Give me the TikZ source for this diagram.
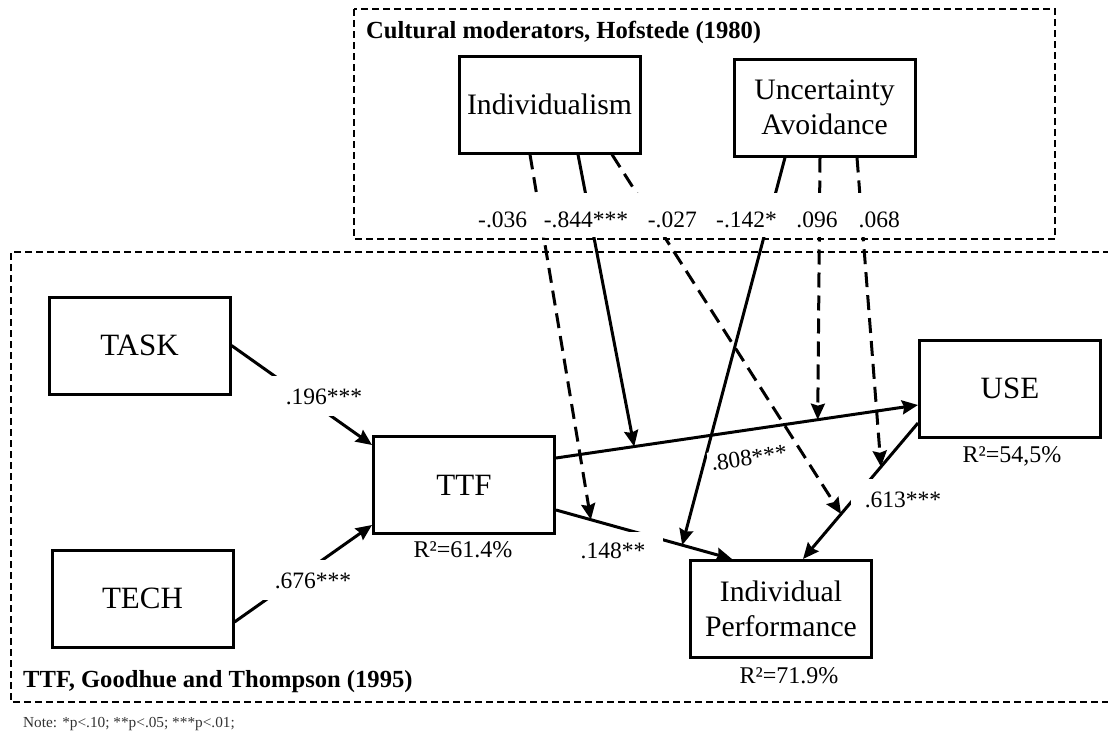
\documentclass[tikz,border=0pt]{standalone}
\usepackage{fontspec}
\setmainfont{Liberation Serif}
\usetikzlibrary{arrows.meta}
\begin{document}
\begin{tikzpicture}[x=1pt,y=-1pt,
  varbox/.style={draw,line width=3pt,fill=white,minimum width=181pt,minimum height=97pt,
    inner sep=0pt,align=center,font=\fontsize{31}{37}\selectfont},
  twoline/.style={varbox,font=\fontsize{29.7}{35}\selectfont},
  conn/.style={line width=3pt,-{Stealth[length=16pt,width=14pt,inset=2pt]}},
  modconn/.style={conn,dash pattern=on 15pt off 8pt},
  coef/.style={fill=white,inner xsep=14pt,inner ysep=12pt,anchor=base,
    font=\fontsize{23.5}{28}\selectfont},
  topcoef/.style={fill=white,inner xsep=1pt,inner ysep=0pt,
    text height=34pt,text depth=10pt,anchor=base,font=\fontsize{23.5}{28}\selectfont},
  rsq/.style={anchor=base,inner sep=0pt,font=\fontsize{24}{28}\selectfont},
  panel/.style={line width=1.6pt,dash pattern=on 7pt off 4pt},
  paneltitle/.style={anchor=base west,inner sep=0pt,font=\fontsize{24.6}{29}\selectfont\bfseries}
]
\useasboundingbox (0,0) rectangle (1108,736);

% constructs
\node[varbox] (task) at (139.5,345.5) {TASK};
\node[varbox] (tech) at (142.5,598.5) {TECH};
\node[varbox] (ttf)  at (464,485)     {TTF};
\node[varbox] (use)  at (1010,388.5)  {USE};
\node[twoline] (ip)  at (781,609)     {Individual\\Performance};
\node[twoline] (ind) at (549.5,104.5) {Individualism};
\node[twoline] (unc) at (824.5,107.5) {Uncertainty\\Avoidance};

% structural paths
\draw[conn] (task.east) -- ([yshift=40pt]ttf.west);
\draw[conn] ([yshift=-23.5pt]tech.east) -- ([yshift=-40pt]ttf.west);
\draw[conn] ([yshift=27pt]ttf.east)
  -- coordinate[pos=0.216] (p844) coordinate[pos=0.723] (p096)
  ([yshift=-16.5pt]use.west);
\draw[conn] ([yshift=-25pt]ttf.east)
  -- coordinate[pos=0.198] (p036) coordinate[pos=0.717] (p142)
  ([xshift=-49pt]ip.north);
\draw[conn] ([yshift=-34.5pt]use.west)
  -- coordinate[pos=0.669] (p027) coordinate[pos=0.322] (p068)
  ([xshift=22pt]ip.north);

% moderating effects
\draw[modconn] ([xshift=-19.5pt]ind.south) -- (p036);
\draw[conn]    ([xshift=28.5pt]ind.south)  -- (p844);
\draw[modconn] ([xshift=62.5pt]ind.south)  -- (p027);
\draw[conn]    ([xshift=-39.5pt]unc.south) -- (p142);
\draw[modconn] ([xshift=-4.5pt]unc.south)  -- (p096);
\draw[modconn] ([xshift=32.5pt]unc.south)  -- (p068);

% coefficients of the moderators (white boxes break the lines)
\node[topcoef,anchor=base west,text width=68pt,align=left]  (c036) at (477,227) {-.036};
\node[topcoef] (c844) at (586,227) {-.844***};
\node[topcoef,anchor=base east,text width=67pt,align=right] (c027) at (698,227) {-.027};
\node[topcoef,anchor=base west,text width=74pt,align=left]  (c142) at (715,227) {-.142*};
\node[topcoef] (c096) at (817,227) {.096};
\node[topcoef,anchor=base east,text width=47pt,align=right] (c068) at (901,227) {.068};

% coefficients of the structural paths
\node[coef] (c196) at (324,404) {.196***};
\node[coef] (c676) at (313,588) {.676***};
\node[coef,anchor=center,inner sep=3pt,rotate=8] (c808) at (749,458) {.808***};
\node[coef,inner xsep=18pt,inner ysep=10pt] (c148) at (613,558) {.148**};
\node[coef] (c613) at (903,507) {.613***};

% explained variance
\node[rsq] (r1) at (463,557)  {R²=61.4\%};
\node[rsq] (r2) at (1012,462) {R²=54,5\%};
\node[rsq] (r3) at (789,683)  {R²=71.9\%};

% panels
\draw[panel] (354,9) rectangle (1055,239);
\draw[panel] (1110,252) -- (11,252) -- (11,702) -- (1110,702);
\node[paneltitle] (t1) at (366,38) {Cultural moderators, Hofstede (1980)};
\node[paneltitle] (t2) at (23,687) {TTF, Goodhue and Thompson (1995)};

\node[anchor=base west,inner sep=0pt,font=\fontsize{15.3}{18}\selectfont,text=black!80]
  (note) at (23,727) {Note: *p<.10; **p<.05; ***p<.01;};
\end{tikzpicture}
\end{document}
